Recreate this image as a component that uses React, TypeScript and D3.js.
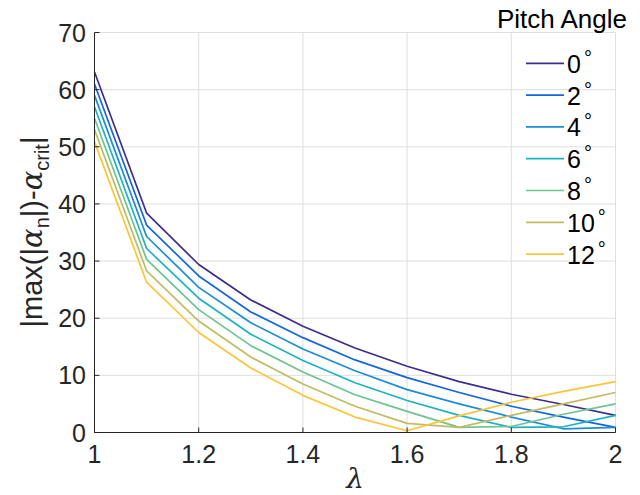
import React from "react";
import * as d3 from "d3";

const lambda = [1, 1.1, 1.2, 1.3, 1.4, 1.5, 1.6, 1.7, 1.8, 1.9, 2];
const pitchAngles = [0, 2, 4, 6, 8, 10, 12];
const deg0 = [63.1, 38.4, 29.4, 23.2, 18.6, 14.8, 11.6, 8.9, 6.7, 4.9, 3.0];
const deg2 = [61.0, 36.3, 27.4, 21.1, 16.6, 12.7, 9.6, 7.0, 4.6, 2.7, 0.9];
const deg4 = [59.0, 34.3, 25.4, 19.2, 14.6, 10.8, 7.5, 5.0, 2.7, 0.65, 0.9];
const deg6 = [57.0, 32.2, 23.5, 17.2, 12.6, 8.7, 5.6, 3.0, 0.9, 1.0, 3.0];
const deg8 = [55.0, 30.3, 21.5, 15.2, 10.6, 6.6, 3.7, 0.9, 1.05, 3.2, 5.0];
const deg10 = [53.0, 28.3, 19.5, 13.2, 8.5, 4.6, 1.6, 0.9, 3.0, 5.0, 7.0];
const deg12 = [50.9, 26.3, 17.5, 11.3, 6.5, 2.7, 0.3, 2.9, 5.3, 7.2, 8.9];
const series = [deg0, deg2, deg4, deg6, deg8, deg10, deg12];
const colors = ["#3b2e8c", "#1466de", "#1a8ed7", "#1db2c3", "#6cc48e", "#c1bc63", "#fcc43a"];
const xTicks = [1, 1.2, 1.4, 1.6, 1.8, 2];
const yTicks = [0, 10, 20, 30, 40, 50, 60, 70];

const W = 640;
const H = 495;
const left = 94.5, right = 615.5, top = 32.5, bottom = 432.5;
const font = "'Liberation Sans', Arial, Helvetica, sans-serif";

export default function App() {
  const x = d3.scaleLinear().domain([1, 2]).range([left, right]);
  const y = d3.scaleLinear().domain([0, 70]).range([bottom, top]);
  const line = d3
    .line<number>()
    .x((_, i) => x(lambda[i]))
    .y((d) => y(d));
  const legendY0 = 63.3;
  const legendStep = 31.8;
  return (
    <svg
      width={W}
      height={H}
      style={{ position: "absolute", left: 0, top: 0, background: "#fff" }}
      fontFamily={font}
    >
      {/* grid */}
      {xTicks.map((t) => (
        <line key={"gx" + t} x1={x(t)} x2={x(t)} y1={top} y2={bottom} stroke="#dfdfdf" strokeWidth={1} />
      ))}
      {yTicks.map((t) => (
        <line key={"gy" + t} x1={left} x2={right} y1={y(t)} y2={y(t)} stroke="#dfdfdf" strokeWidth={1} />
      ))}
      {/* series */}
      {series.map((s, i) => (
        <path key={"s" + i} d={line(s) || ""} fill="none" stroke={colors[i]} strokeWidth={1.7} strokeLinejoin="round" />
      ))}
      {/* axes */}
      <line x1={left} x2={left} y1={top} y2={bottom} stroke="#262626" strokeWidth={1} />
      <line x1={left} x2={right} y1={bottom} y2={bottom} stroke="#262626" strokeWidth={1} />
      {xTicks.map((t) => (
        <g key={"tx" + t}>
          <line x1={x(t)} x2={x(t)} y1={bottom} y2={bottom - 5} stroke="#262626" />
          <text x={x(t)} y={463} fontSize={25} textAnchor="middle" fill="#262626">
            {String(t)}
          </text>
        </g>
      ))}
      {yTicks.map((t) => (
        <g key={"ty" + t}>
          <line x1={left} x2={left + 5} y1={y(t)} y2={y(t)} stroke="#262626" />
          <text x={86} y={y(t) + 9} fontSize={25} textAnchor="end" fill="#262626">
            {String(t)}
          </text>
        </g>
      ))}
      {/* x label */}
      <text x={355} y={488} fontSize={28} textAnchor="middle" fontStyle="italic" fontFamily="'DejaVu Serif', serif" fill="#262626">
        λ
      </text>
      {/* y label */}
      <text
        transform={`translate(42, 232) rotate(-90)`}
        textAnchor="middle"
        fontSize={29}
        fill="#262626"
      >
        <tspan>|max(|</tspan>
        <tspan fontStyle="italic" fontFamily="'DejaVu Serif', serif">α</tspan>
        <tspan fontSize={20} dy={7}>n</tspan>
        <tspan dy={-7}>|)-</tspan>
        <tspan fontStyle="italic" fontFamily="'DejaVu Serif', serif">α</tspan>
        <tspan fontSize={20} dy={7}>crit</tspan>
        <tspan dy={-7}>|</tspan>
      </text>
      {/* legend */}
      <text x={627} y={28} fontSize={26} textAnchor="end" fill="#000">
        Pitch Angle
      </text>
      {pitchAngles.map((p, i) => {
        const ly = legendY0 + i * legendStep;
        return (
          <g key={"l" + p}>
            <line x1={526} x2={564} y1={ly} y2={ly} stroke={colors[i]} strokeWidth={1.7} />
            <text x={567} y={ly + 9.5} fontSize={25} fill="#000">
              {String(p)}
              <tspan fontSize={20} dx={3} dy={-8}>°</tspan>
            </text>
          </g>
        );
      })}
    </svg>
  );
}
